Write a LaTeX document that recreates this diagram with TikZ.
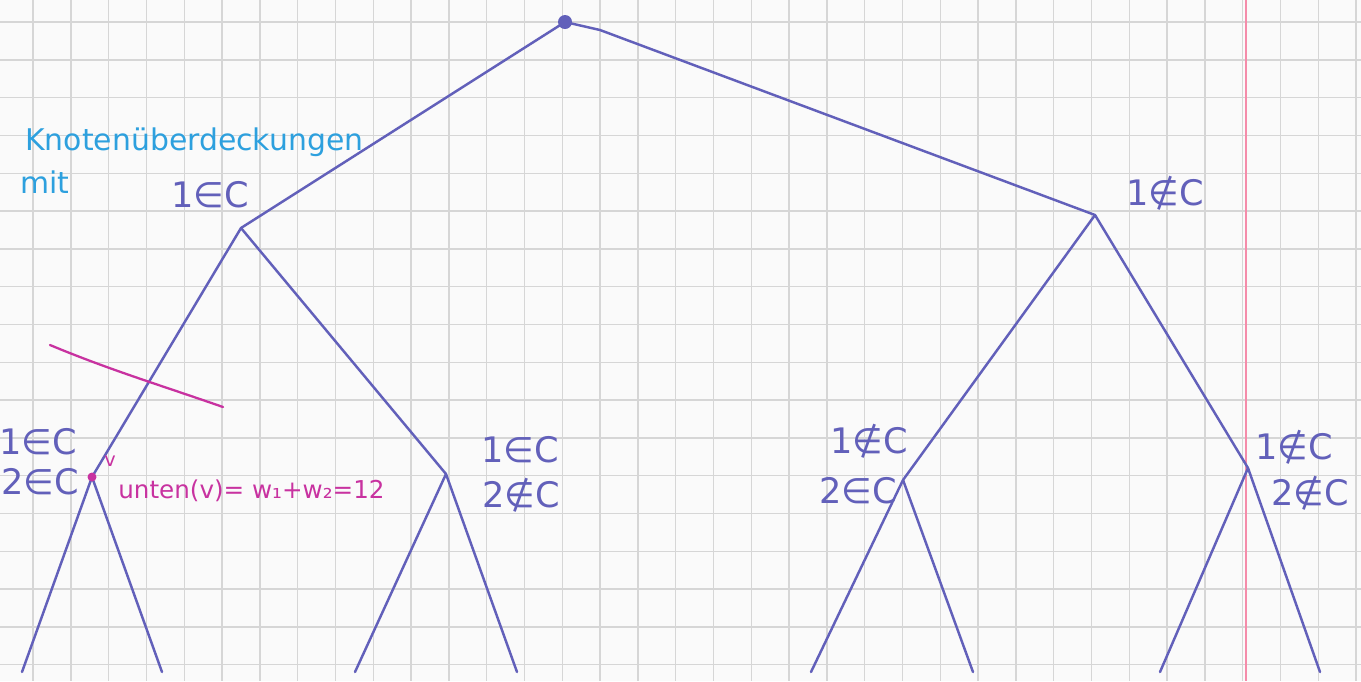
\documentclass[tikz,border=0pt]{standalone}
\usepackage{fontspec}
\setmainfont{DejaVu Sans}
\definecolor{paper}{RGB}{250,250,250}
\definecolor{gridc}{RGB}{214,214,214}
\definecolor{treeblue}{RGB}{98,96,186}
\definecolor{cyantext}{RGB}{45,160,222}
\definecolor{magentac}{RGB}{200,50,160}
\definecolor{marginred}{RGB}{245,140,170}
\begin{document}
\begin{tikzpicture}[x=0.02cm,y=-0.02cm,
  edge/.style={draw=treeblue,line width=1.4pt,line cap=round,line join=round},
  lab/.style={text=treeblue,font=\fontsize{20}{24}\selectfont,inner sep=0pt},
  note/.style={text=cyantext,font=\fontsize{17}{20}\selectfont,inner sep=0pt},
  mnote/.style={text=magentac,font=\fontsize{14}{17}\selectfont,inner sep=0pt}]
\useasboundingbox (0,0) rectangle (1361,681);
\fill[paper] (0,0) rectangle (1361,681);
% grid paper
\foreach \k in {0,...,35} {
  \draw[gridc,line width=0.8pt] ({33+37.8*\k},0) -- ({33+37.8*\k},681);
}
\foreach \k in {0,...,17} {
  \draw[gridc,line width=0.8pt] (0,{22+37.8*\k}) -- (1361,{22+37.8*\k});
}
% margin line
\draw[marginred,line width=1.6pt] (1246,0) -- (1246,681);
% tree points
\coordinate (root) at (565,22);
\coordinate (L) at (241,228);
\coordinate (R) at (1095,215);
\coordinate (LL) at (92,477);
\coordinate (LR) at (446,474);
\coordinate (RL) at (903,480);
\coordinate (RR) at (1248,468);
\coordinate (LL1) at (22,672);
\coordinate (LL2) at (162,672);
\coordinate (LR1) at (355,672);
\coordinate (LR2) at (517,672);
\coordinate (RL1) at (811,672);
\coordinate (RL2) at (973,672);
\coordinate (RR1) at (1160,672);
\coordinate (RR2) at (1320,672);
% edges
\draw[edge] (root) -- (L);
\draw[edge] (root) -- (600,30) -- (R);
\draw[edge] (L) -- (LL);
\draw[edge] (L) -- (LR);
\draw[edge] (R) -- (RL);
\draw[edge] (R) -- (RR);
\draw[edge] (LL) -- (LL1);
\draw[edge] (LL) -- (LL2);
\draw[edge] (LR) -- (LR1);
\draw[edge] (LR) -- (LR2);
\draw[edge] (RL) -- (RL1);
\draw[edge] (RL) -- (RL2);
\draw[edge] (RR) -- (RR1);
\draw[edge] (RR) -- (RR2);
\fill[treeblue] (root) circle (7);
% labels
\node[note,anchor=base west] (t1) at (25,150) {Knotenüberdeckungen};
\node[note,anchor=base west] (t2) at (20,193) {mit};
\node[lab] (lL) at (210,195) {1∈C};
\node[lab] (lR) at (1165,193) {1∉C};
\node[lab] (lLL1) at (38,442) {1∈C};
\node[lab] (lLL2) at (40,482) {2∈C};
\node[lab] (lLR1) at (520,450) {1∈C};
\node[lab] (lLR2) at (521,495) {2∉C};
\node[lab] (lRL1) at (869,441) {1∉C};
\node[lab] (lRL2) at (858,491) {2∈C};
\node[lab] (lRR1) at (1294,447) {1∉C};
\node[lab] (lRR2) at (1310,493) {2∉C};
% magenta annotation
\coordinate (c1) at (50,345);
\coordinate (c2) at (223,407);
\draw[magentac,line width=1.3pt,line cap=round] (c1) .. controls (110,370) and (160,385) .. (c2);
\fill[magentac] (LL) circle (4.5);
\node[mnote,font=\fontsize{11}{13}\selectfont] (v) at (110,461) {v};
\node[mnote,anchor=base west] (unten) at (118,498) {unten(v)= w₁+w₂=12};
\end{tikzpicture}
\end{document}
